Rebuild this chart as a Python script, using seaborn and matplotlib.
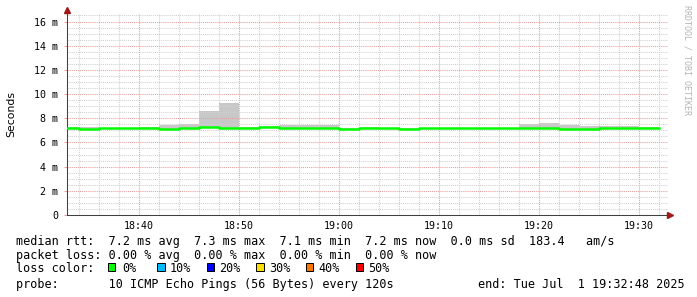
import matplotlib
matplotlib.use("Agg")
import matplotlib.pyplot as plt
import seaborn as sns
import pandas as pd
from matplotlib.patches import Rectangle

# ---------------- data ----------------
step_start = ["18:32:48", "18:34", "18:36", "18:38", "18:40", "18:42", "18:44", "18:46",
              "18:48", "18:50", "18:52", "18:54", "18:56", "18:58", "19:00", "19:02",
              "19:04", "19:06", "19:08", "19:10", "19:12", "19:14", "19:16", "19:18",
              "19:20", "19:22", "19:24", "19:26", "19:28", "19:30"]
last_step_end = "19:32"
median_ms = [7.22, 7.12, 7.18, 7.18, 7.20, 7.12, 7.20, 7.28, 7.22, 7.18,
             7.30, 7.22, 7.22, 7.22, 7.12, 7.18, 7.18, 7.12, 7.18, 7.20,
             7.20, 7.20, 7.20, 7.20, 7.22, 7.15, 7.15, 7.20, 7.20, 7.20]
smoke_lo_ms = [7.15, 7.10, 7.15, 7.15, 7.15, 7.10, 7.15, 7.20, 7.08, 7.15,
               7.25, 7.18, 7.18, 7.18, 7.10, 7.15, 7.15, 7.10, 7.15, 7.15,
               7.12, 7.10, 7.15, 7.15, 7.15, 7.12, 7.12, 7.15, 7.15, 7.18]
smoke_hi_ms = [7.30, 7.25, 7.22, 7.22, 7.25, 7.42, 7.50, 8.60, 9.25, 7.25,
               7.35, 7.45, 7.45, 7.45, 7.20, 7.25, 7.22, 7.18, 7.22, 7.22,
               7.22, 7.22, 7.22, 7.50, 7.62, 7.45, 7.35, 7.38, 7.38, 7.25]
y_ticks = [0, 2, 4, 6, 8, 10, 12, 14, 16]
y_tick_labels = ["0", "2 m", "4 m", "6 m", "8 m", "10 m", "12 m", "14 m", "16 m"]
x_tick_labels = ["18:40", "18:50", "19:00", "19:10", "19:20", "19:30"]
window_start = "18:32:48"
loss_colors = ["#00ff00", "#00bbff", "#0000ff", "#ffdd00", "#ff7700", "#ff0000"]
loss_labels = ["0%", "10%", "20%", "30%", "40%", "50%"]
legend_rtt = "median rtt:  7.2 ms avg  7.3 ms max  7.1 ms min  7.2 ms now  0.0 ms sd  183.4   am/s"
legend_loss = "packet loss: 0.00 % avg  0.00 % max  0.00 % min  0.00 % now"
legend_color = "loss color:"
legend_probe = "probe:       10 ICMP Echo Pings (56 Bytes) every 120s"
legend_end = "end: Tue Jul  1 19:32:48 2025"
y_label = "Seconds"
watermark = "RRDTOOL / TOBI OETIKER"


def to_min(t):
    p = [int(v) for v in t.split(":")]
    s = p[2] if len(p) > 2 else 0
    return (p[0] - 18) * 60 + p[1] + s / 60.0


# ---------------- figure ----------------
W, H = 697, 297
fig = plt.figure(figsize=(W / 100, H / 100), dpi=100)
fig.patch.set_facecolor("white")

L, R, T, B = 67, 668, 14, 215
ax = fig.add_axes([L / W, (H - B) / H, (R - L) / W, (B - T) / H])
ax.set_facecolor("white")

x = [to_min(t) for t in step_start] + [to_min(last_step_end)]
med = median_ms + [median_ms[-1]]
lo = smoke_lo_ms + [smoke_lo_ms[-1]]
hi = smoke_hi_ms + [smoke_hi_ms[-1]]
df = pd.DataFrame({"t": x, "median": med, "lo": lo, "hi": hi})

ax.fill_between(df["t"], df["lo"], df["hi"], step="post", color="#c8c8c8",
                linewidth=0, zorder=1)
sns.lineplot(data=df, x="t", y="median", drawstyle="steps-post", color="#00ff00",
             linewidth=1.8, ax=ax, zorder=3)

x0 = to_min(window_start)
px_per_min = 10.0
ax.set_xlim(x0, x0 + (R - L) / px_per_min)
px_per_ms = (B - 21.5) / 16.0
ax.set_ylim(0, (B - T) / px_per_ms)

# ticks
major_x = [to_min(t) for t in x_tick_labels]
ax.set_xticks(major_x)
ax.set_xticklabels(x_tick_labels)
ax.set_xticks([to_min(t) for t in step_start[1:]] + [to_min(last_step_end)], minor=True)
ax.set_yticks(y_ticks)
ax.set_yticklabels(y_tick_labels)
ax.set_yticks([v / 2 for v in range(0, 34)], minor=True)

mono = "DejaVu Sans Mono"
for lab in ax.get_xticklabels() + ax.get_yticklabels():
    lab.set_fontfamily(mono)
    lab.set_fontsize(7.2)
    lab.set_color("#000000")
ax.tick_params(axis="x", which="major", length=0, pad=4.5)
ax.tick_params(axis="y", which="major", length=2.5, color="#e8a0a0", pad=3.8)
ax.tick_params(which="minor", length=0)

ax.set_axisbelow("line")
ax.grid(which="minor", color="#d0d0d0", linestyle=(0, (1, 1)), linewidth=0.75)
ax.grid(which="major", color="#e89c9c", linestyle=(0, (1, 1)), linewidth=0.75)

ax.set_xlabel("")
ax.set_ylabel("")
for s in ["top", "right"]:
    ax.spines[s].set_visible(False)
for s in ["left", "bottom"]:
    ax.spines[s].set_color("#404040")
    ax.spines[s].set_linewidth(0.75)

# arrows
ax.plot([0], [1 + 4 / (B - T)], marker="^", markersize=4.2, color="#a01818",
        transform=ax.transAxes, clip_on=False, zorder=5)
ax.plot([1 + 2 / (R - L)], [0], marker=">", markersize=4.2, color="#a01818",
        transform=ax.transAxes, clip_on=False, zorder=5)

# labels
fig.text(11 / W, 1 - 114 / H, y_label, rotation=90, ha="center", va="center",
         fontsize=7.8, family="DejaVu Sans", color="#000000")
fig.text(687.5 / W, 1 - 60 / H, watermark, rotation=270, ha="center", va="center",
         fontsize=6, family=mono, color="#b4b4b4")

# legend
fs = 8.5


def ftext(xp, yp, s, **kw):
    fig.text(xp / W, 1 - yp / H, s, fontsize=fs, family=mono, color="#000000",
             va="baseline", ha="left", **kw)


ftext(16, 244.8, legend_rtt)
ftext(16, 259.3, legend_loss)
ftext(16, 271.5, legend_color)
ftext(16, 288.3, legend_probe)
ftext(478, 288.3, legend_end)

box_x0, box_step, box_w = 107.5, 49.6, 7.5
for i, (c, lab) in enumerate(zip(loss_colors, loss_labels)):
    bx = box_x0 + i * box_step
    fig.patches.append(Rectangle((bx / W, 1 - 270.5 / H), box_w / W, box_w / H,
                                 transform=fig.transFigure, facecolor=c,
                                 edgecolor="#000000", linewidth=0.7))
    ftext(bx + (15.0 if len(lab) == 2 else 12.5), 271.5, lab)

fig.savefig("out.png", dpi=100, facecolor="white")
